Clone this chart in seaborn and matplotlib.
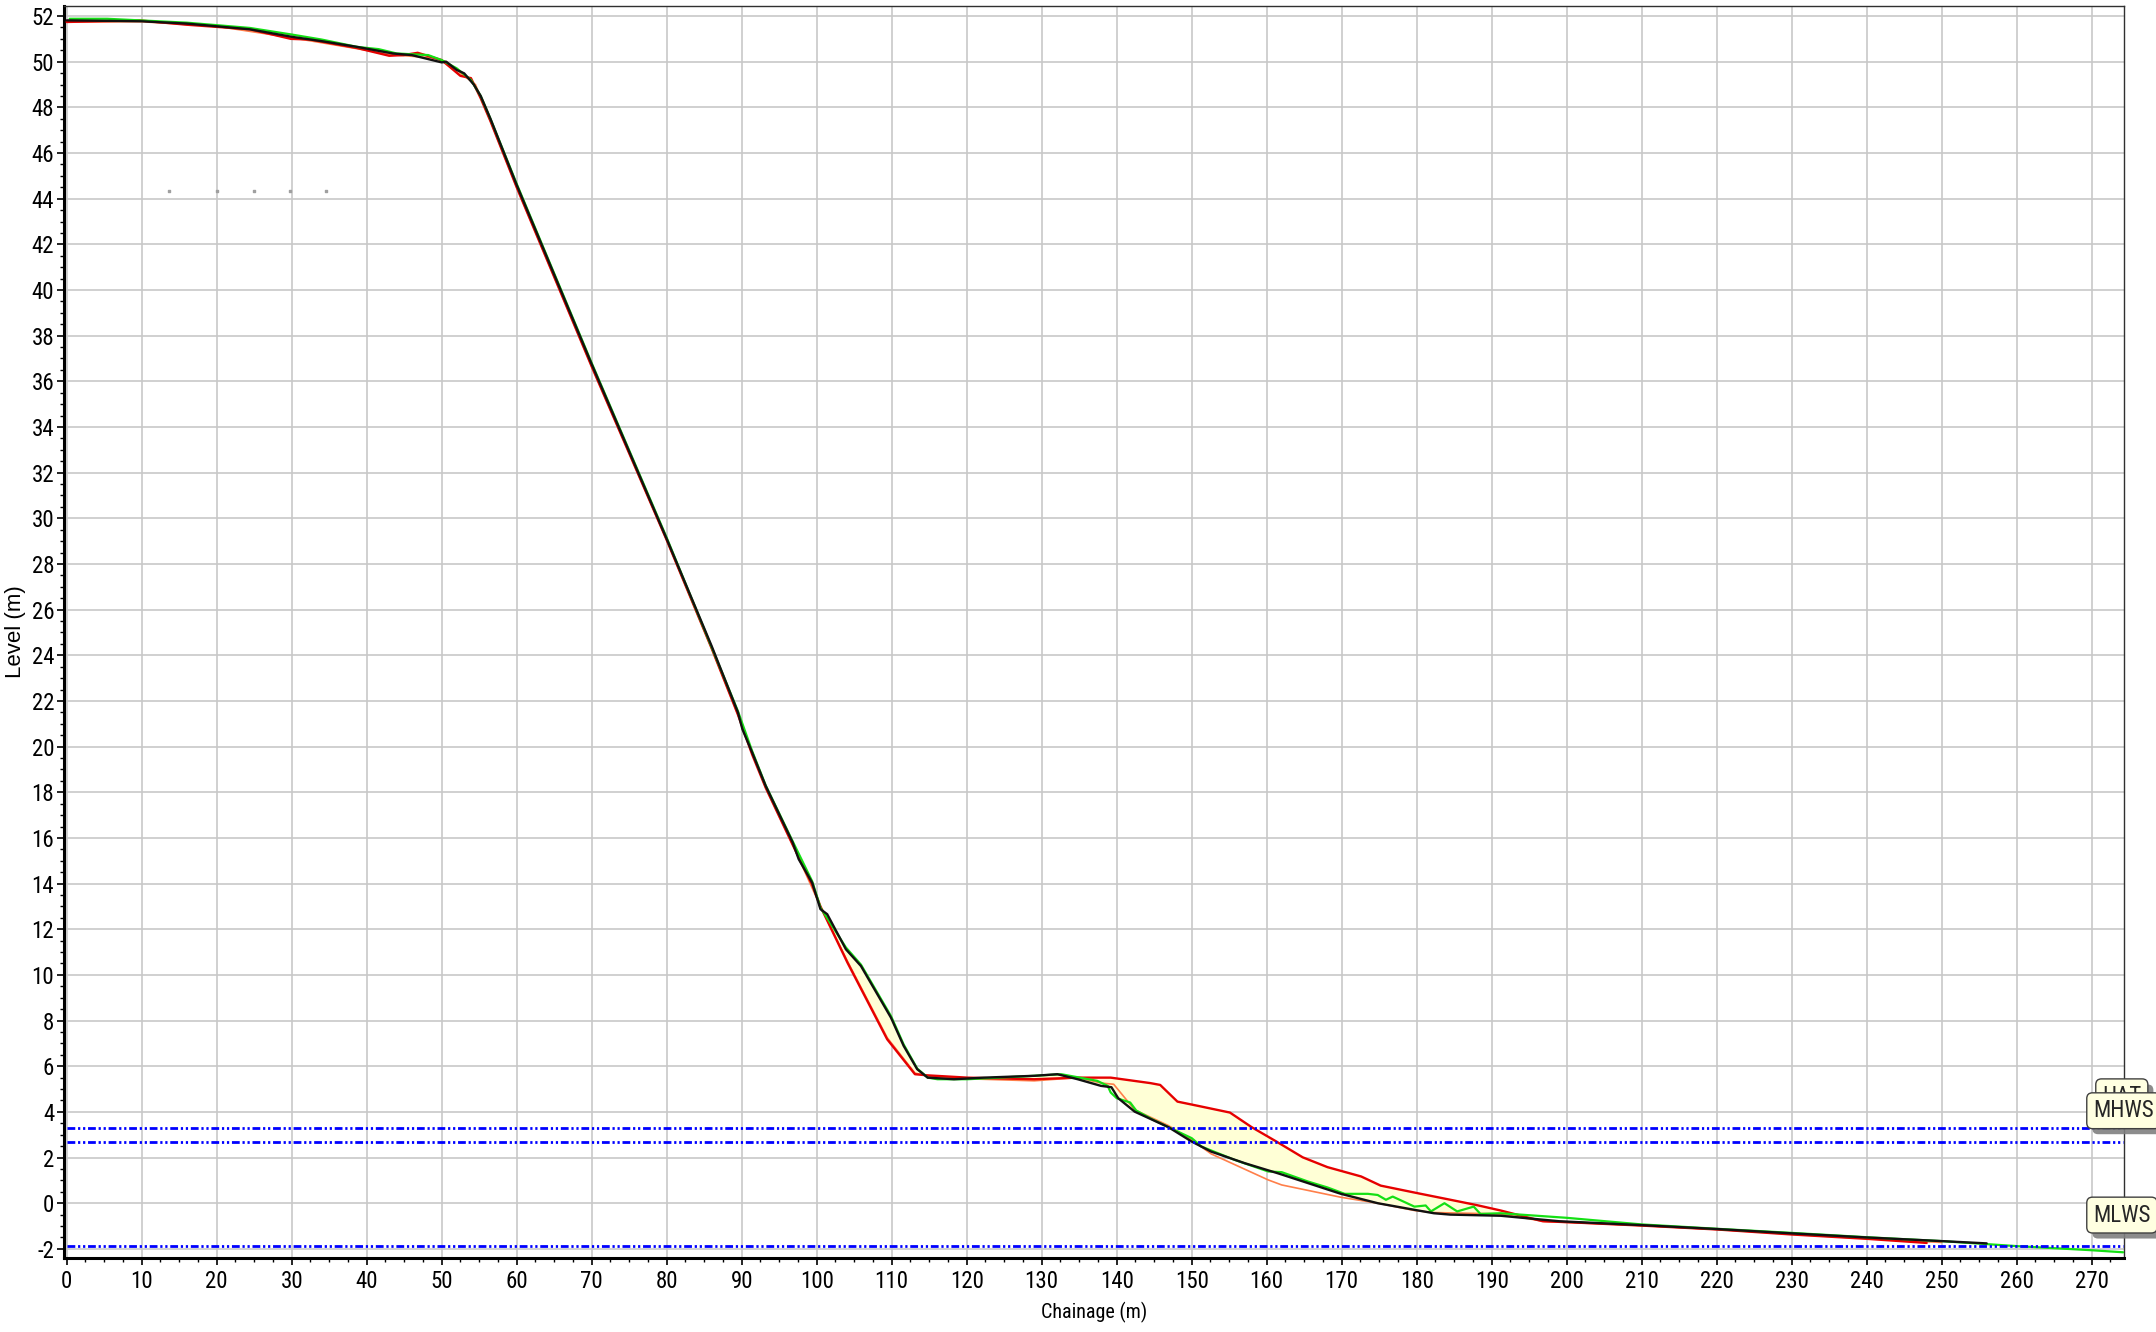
import numpy as np
import pandas as pd
import seaborn as sns
import matplotlib.pyplot as plt
import matplotlib.patheffects as pe
from matplotlib import font_manager
from matplotlib.ticker import MultipleLocator

# survey profiles (chainage m, level m)
red_x = [0, 9.7, 16, 24.4, 29.9, 32.5, 38.7, 43, 44.9, 46.8, 47.8, 50, 52.5, 53.9, 55.2, 56.5,
         60, 70, 80, 86, 89.5, 91.4, 93.2, 96.8, 99.4, 100.5, 104.1, 109.4, 113.1, 114.8, 120.1,
         129, 134.8, 139.2, 144.5, 145.8, 148.1, 150.9, 155.1, 158.0, 161.3, 164.8, 168.1,
         172.6, 175.2, 180.1, 184.5, 188.1, 191.2, 196.8, 200, 210, 220, 230, 240, 248]
red_y = [51.74, 51.81, 51.62, 51.42, 51.0, 50.97, 50.6, 50.26, 50.29, 50.39, 50.29, 50.07, 49.38,
         49.28, 48.4, 47.4, 44.5, 36.65, 29.05, 24.3, 21.4, 19.65, 18.2, 15.7, 13.95, 13.0,
         10.54, 7.18, 5.65, 5.6, 5.5, 5.43, 5.5, 5.5, 5.26, 5.18, 4.45, 4.26, 3.97, 3.33, 2.70,
         2.01, 1.58, 1.17, 0.77, 0.44, 0.15, -0.09, -0.32, -0.79, -0.83, -0.98, -1.15, -1.37,
         -1.56, -1.74]

orange_x = [0, 10, 20, 30, 40, 43.5, 48.7, 50.6, 52.5, 54.5, 56.5, 60, 70, 80, 86, 89.5, 93.2,
            96.8, 100.5, 104.1, 109.4, 113.1, 115, 120, 129, 134.8, 138, 139.6, 142.4, 146.9,
            150, 152.6, 160.2, 162, 169.9, 174.8, 179.7, 182.3, 191.2, 197, 200, 210, 220, 230,
            240, 250]
orange_y = [51.74, 51.75, 51.55, 51.05, 50.5, 50.3, 50.17, 50.0, 49.5, 49.0, 47.4, 44.5, 36.65,
            29.05, 24.3, 21.4, 18.2, 15.7, 13.0, 10.6, 7.25, 5.7, 5.55, 5.45, 5.36, 5.5, 5.26,
            5.21, 4.09, 3.40, 2.77, 2.16, 1.02, 0.80, 0.26, 0.0, -0.32, -0.41, -0.47, -0.8, -0.84,
            -0.98, -1.15, -1.36, -1.55, -1.72]

black_x = [0, 10, 16, 24.4, 30, 34, 38.7, 43.5, 46, 50, 50.6, 52, 53, 54.3, 55.2, 56.5, 60, 70,
           80, 86, 89.5, 90.1, 91.4, 93.2, 96.8, 97.6, 99.4, 100.5, 101.4, 103.9, 105.9, 109.9,
           111.6, 113.4, 114.8, 118.3, 122.3, 129, 132.1, 134.8, 137.9, 139.3, 140.2, 142.4,
           146.9, 150, 152.6, 157.1, 161.5, 169.9, 174.8, 179.7, 182.3, 184.5, 191.2, 199, 210,
           220, 230, 240, 250, 256]
black_y = [51.81, 51.77, 51.67, 51.42, 51.09, 50.9, 50.65, 50.36, 50.29, 49.97, 50.0, 49.64,
           49.49, 48.99, 48.5, 47.5, 44.6, 36.75, 29.1, 24.4, 21.5, 20.76, 19.74, 18.28, 15.8,
           15.07, 14.04, 12.88, 12.66, 11.12, 10.39, 8.13, 6.89, 5.87, 5.50, 5.43, 5.5, 5.58,
           5.65, 5.43, 5.14, 5.08, 4.6, 4.01, 3.33, 2.70, 2.26, 1.75, 1.31, 0.41, 0.0, -0.29,
           -0.44, -0.5, -0.55, -0.79, -0.96, -1.13, -1.32, -1.50, -1.66, -1.76]

green_x = [0.4, 5.4, 16, 24.4, 30, 34, 38.7, 41.6, 44, 48.2, 50, 52, 53.9, 55.2, 56.5, 60, 70, 80,
           89.5, 91.4, 93.2, 96.8, 99.4, 100.5, 103.9, 105.9, 109.9, 111.6, 113.4, 114.8, 116.1,
           120.1, 129, 132.6, 137.4, 138.8, 139.2, 140, 141.8, 142.6, 144.7, 146.9, 150, 151.3,
           155.7, 160.2, 162, 165.5, 168.1, 170.4, 173.5, 174.8, 175.9, 176.8, 179.7, 181.2,
           181.9, 183.7, 185.4, 187.6, 188.5, 191.2, 200, 210, 220, 230, 240, 250, 260, 270, 274.2]
green_y = [51.88, 51.88, 51.71, 51.48, 51.19, 50.97, 50.65, 50.55, 50.36, 50.29, 50.07, 49.71,
           49.2, 48.5, 47.5, 44.65, 36.8, 29.15, 21.55, 19.8, 18.3, 15.85, 14.1, 12.95, 11.2,
           10.45, 8.2, 6.95, 5.9, 5.5, 5.43, 5.43, 5.58, 5.65, 5.36, 5.14, 4.85, 4.6, 4.41, 4.06,
           3.68, 3.33, 2.85, 2.48, 1.9, 1.39, 1.36, 0.95, 0.69, 0.41, 0.41, 0.36, 0.15, 0.29,
           -0.15, -0.10, -0.36, 0.0, -0.36, -0.15, -0.47, -0.44, -0.64, -0.93, -1.12, -1.30,
           -1.49, -1.66, -1.88, -2.06, -2.15]

# tide levels
tide_names = ["HAT", "MHWS", "MLWS"]
tide_levels = [3.31, 2.70, -1.87]

# leftover legend markers
marker_x = [13.7, 20.1, 25.0, 29.8, 34.6]
marker_y = [44.34, 44.34, 44.34, 44.34, 44.34]

# cut/fill zone between red and black surveys
fill_start, fill_end = 100.5, 200

sns.set_theme(style="white")
names = {f.name for f in font_manager.fontManager.ttflist}
narrow = [n for n in ['Liberation Sans Narrow', 'Arial Narrow', 'Roboto Condensed',
                      'Open Sans Condensed', 'DejaVu Sans Condensed'] if n in names]
plt.rcParams['font.family'] = narrow + ['Liberation Sans', 'DejaVu Sans']
plt.rcParams['axes.unicode_minus'] = False

fig = plt.figure(figsize=(21.56, 13.32), dpi=100)
ax = fig.add_axes([0.02968, 0.05556, 0.95562, 0.93994])

rx, ry = np.array(red_x), np.array(red_y)
bx, by = np.array(black_x), np.array(black_y)
rm = (rx >= fill_start) & (rx <= fill_end)
bm = (bx >= fill_start) & (bx <= fill_end)
poly_x = np.concatenate([rx[rm], bx[bm][::-1]])
poly_y = np.concatenate([ry[rm], by[bm][::-1]])
ax.fill(poly_x, poly_y, color='#ffffd6', lw=0, zorder=1)

series = [
    (orange_x, orange_y, '#ff7f4a', 1.2),
    (red_x, red_y, '#e60000', 1.7),
    (green_x, green_y, '#14e014', 1.6),
    (black_x, black_y, '#111111', 1.7),
]
for i, (xs, ys, col, lw) in enumerate(series):
    df = pd.DataFrame({"chainage": xs, "level": ys})
    sns.lineplot(data=df, x="chainage", y="level", sort=False, estimator=None,
                 color=col, lw=lw, ax=ax, zorder=3 + i)

ax.hlines(tide_levels, 0, 274.2, colors='#0000ff', lw=2,
          linestyles=[(0, (2.8, 1, 0.8, 1, 0.8, 1))], zorder=8)

ax.scatter(marker_x, marker_y, marker='s', s=4, color='#a0a0a0', zorder=8)

# tide labels on the right edge
label_x = [271.4, 270.2, 270.2]
for name, lev, lx in zip(tide_names, tide_levels, label_x):
    t = ax.text(lx, lev + 1.35, name, fontsize=16.5, va='center', ha='left', clip_on=False,
                zorder=20, bbox=dict(boxstyle='round,pad=0.28,rounding_size=0.25',
                                     fc='#ffffe1', ec='#404040', lw=1))
    t.get_bbox_patch().set_path_effects([
        pe.SimplePatchShadow(offset=(4, -4), shadow_rgbFace='#808080', alpha=0.9),
        pe.Normal()])

ax.set_xlim(-0.36, 274.35)
ax.set_ylim(-2.40, 52.44)
ax.xaxis.set_major_locator(MultipleLocator(10))
ax.xaxis.set_minor_locator(MultipleLocator(2.5))
ax.yaxis.set_major_locator(MultipleLocator(2))
ax.yaxis.set_minor_locator(MultipleLocator(0.5))

ax.grid(which='major', color='#c8c8c8', lw=1.2)
ax.set_axisbelow(True)
ax.tick_params(which='both', direction='out', color='black', bottom=True, left=True,
               top=False, right=False)
ax.tick_params(which='major', length=5, width=1.2, labelsize=16.5, labelcolor='black')
ax.tick_params(which='minor', length=3, width=1)
ax.tick_params(axis='y', which='major', pad=2)
ax.tick_params(axis='x', which='major', pad=4)

for side in ['left', 'bottom']:
    ax.spines[side].set_linewidth(2.2)
    ax.spines[side].set_color('black')
for side in ['top', 'right']:
    ax.spines[side].set_linewidth(1)
    ax.spines[side].set_color('#303030')

ax.set_xlabel("Chainage (m)", fontsize=14.5, color='black')
ax.set_ylabel("Level (m)", fontsize=16, color='black', family=['Liberation Sans', 'DejaVu Sans'])
ax.xaxis.set_label_coords(0.5, -0.035)
ax.yaxis.set_label_coords(-0.0185, 0.5)

fig.savefig("out.png", dpi=100)
